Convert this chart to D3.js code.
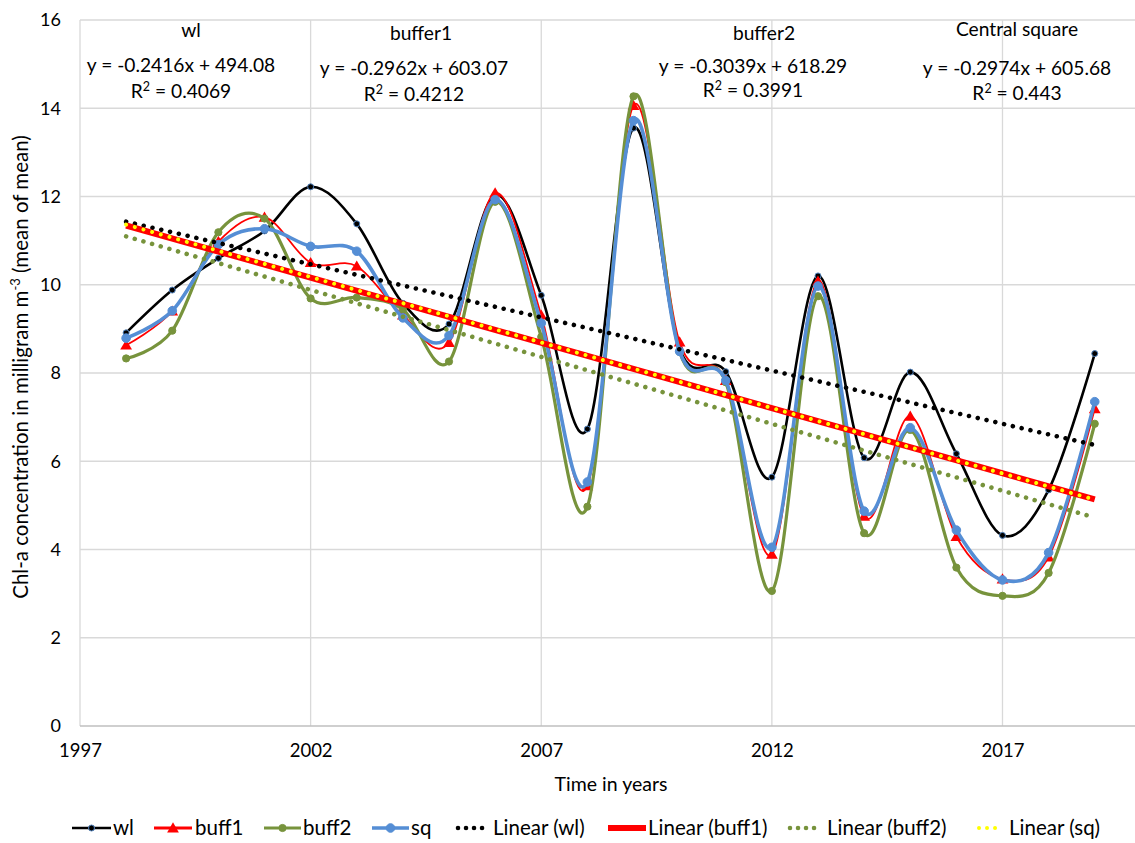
<!DOCTYPE html>
<html><head><meta charset="utf-8">
<script src="https://cdn.jsdelivr.net/npm/d3@7"></script>
<style>
body{margin:0;background:#fff}
text{font-family:Lato,"Open Sans",sans-serif;fill:#000}
</style>
</head><body>
<svg id="c" width="1135" height="843"></svg>
<script>
// ---------- data ----------
const years = [1998,1999,2000,2001,2002,2003,2004,2005,2006,2007,2008,2009,2010,2011,2012,2013,2014,2015,2016,2017,2018,2019];
const wl    = [8.91,9.88,10.60,11.22,12.22,11.38,9.58,9.11,12.03,9.76,6.73,13.55,8.55,8.03,5.64,10.20,6.08,8.02,6.17,4.32,5.35,8.44];
const buff1 = [8.63,9.40,10.98,11.53,10.50,10.42,9.31,8.69,12.08,9.31,5.44,14.06,8.70,7.83,3.89,10.08,4.75,7.02,4.29,3.33,3.83,7.19];
const buff2 = [8.33,8.96,11.19,11.50,9.69,9.71,9.44,8.26,11.88,8.82,4.97,14.27,8.48,7.79,3.06,9.74,4.37,6.71,3.59,2.95,3.47,6.85];
const sq    = [8.79,9.41,10.91,11.27,10.87,10.76,9.25,8.85,11.93,9.13,5.53,13.72,8.49,7.83,4.05,9.97,4.87,6.76,4.44,3.31,3.93,7.35];
const seriesNames = ["wl","buff1","buff2","sq"];
const trendNames = ["Linear (wl)","Linear (buff1)","Linear (buff2)","Linear (sq)"];
const annotTitles = ["wl","buffer1","buffer2","Central square"];
const annotEquations = ["y = -0.2416x + 494.08","y = -0.2962x + 603.07","y = -0.3039x + 618.29","y = -0.2974x + 605.68"];
const annotR2 = ["0.4069","0.4212","0.3991","0.443"];
const xTicks = [1997,2002,2007,2012,2017];
const yTicks = [0,2,4,6,8,10,12,14,16];
const xTitle = "Time in years";
const yTitleParts = ["Chl-a concentration in  milligram m","-3"," (mean of mean)"];

// ---------- layout ----------
const L = 80, T = 20, B = 726, R = 1135;
const svg = d3.select("#c");
const x = d3.scaleLinear().domain([1997, 2017]).range([L, 1002.5]);
const y = d3.scaleLinear().domain([0, 16]).range([B, T]);
const values = [wl, buff1, buff2, sq];

const styles = [
  {color:"#000000", width:2.6, marker:"circle", r:3, mfill:"#000", mstroke:"#4f81bd"},
  {color:"#ff0000", width:1.8, marker:"triangle", size:60, mfill:"#ff0000", mstroke:"#ff0000"},
  {color:"#77933c", width:3.2, marker:"circle", r:3.6, mfill:"#77933c", mstroke:"#77933c"},
  {color:"#558ed5", width:3.6, marker:"circle", r:4.3, mfill:"#558ed5", mstroke:"#558ed5"}
];
const trendStyles = [
  {color:"#000000", width:4.6, dash:"0.01 9"},
  {color:"#ff0000", width:6, dash:null},
  {color:"#77933c", width:4.6, dash:"0.01 9"},
  {color:"#ffff00", width:4, dash:"0.01 9"}
];

// gridlines
const g = svg.append("g");
g.selectAll("line.h").data(yTicks.filter(v=>v>0)).join("line")
  .attr("x1", L).attr("x2", R).attr("y1", d=>y(d)).attr("y2", d=>y(d))
  .attr("stroke", "#d9d9d9").attr("stroke-width", 1.3);
g.selectAll("line.v").data(xTicks).join("line")
  .attr("x1", d=>x(d)).attr("x2", d=>x(d)).attr("y1", T).attr("y2", B)
  .attr("stroke", "#d9d9d9").attr("stroke-width", 1.3);
g.append("line").attr("x1", L).attr("x2", R).attr("y1", B).attr("y2", B)
  .attr("stroke", "#bfbfbf").attr("stroke-width", 1.5);

// axes
const xAxis = svg.append("g").attr("transform", `translate(0,${B})`)
  .call(d3.axisBottom(x).tickValues(xTicks).tickFormat(d3.format("d")).tickSize(0).tickPadding(18));
xAxis.select(".domain").remove();
xAxis.selectAll("text").attr("font-size", 18.5).attr("font-family", "Lato").attr("fill", "#000");
const yAxis = svg.append("g").attr("transform", `translate(${L},0)`)
  .call(d3.axisLeft(y).tickValues(yTicks).tickSize(0).tickPadding(19));
yAxis.select(".domain").remove();
yAxis.selectAll("text").attr("font-size", 18).attr("font-family", "DejaVu Sans").attr("fill", "#000");

// axis titles
svg.append("text").attr("x", 611).attr("y", 791).attr("text-anchor", "middle")
  .attr("font-size", 19.5).text(xTitle);
const yt = svg.append("text").attr("transform", "translate(28,367) rotate(-90)")
  .attr("text-anchor", "middle").attr("font-size", 20.5);
yt.append("tspan").text(yTitleParts[0]);
yt.append("tspan").attr("dy", -8).attr("font-size", 13).text(yTitleParts[1]);
yt.append("tspan").attr("dy", 8).text(yTitleParts[2]);

// clip
svg.append("clipPath").attr("id", "pc").append("rect").attr("x", L).attr("y", T - 10).attr("width", R - L).attr("height", B - T + 10);
const plot = svg.append("g").attr("clip-path", "url(#pc)");

// series
const line = d3.line().x((d,i)=>x(years[i])).y(d=>y(d)).curve(d3.curveCardinal.tension(0));
function drawMarker(sel, st, cx, cy) {
  if (st.marker === "triangle") {
    sel.append("path").attr("d", d3.symbol(d3.symbolTriangle, st.size)())
      .attr("transform", `translate(${cx},${cy + 1})`).attr("fill", st.mfill);
  } else {
    sel.append("circle").attr("cx", cx).attr("cy", cy).attr("r", st.r)
      .attr("fill", st.mfill).attr("stroke", st.mstroke).attr("stroke-width", 1);
  }
}
values.forEach((vals, k) => {
  const st = styles[k];
  const sg = plot.append("g");
  sg.append("path").attr("d", line(vals)).attr("fill", "none")
    .attr("stroke", st.color).attr("stroke-width", st.width).attr("stroke-linejoin", "round");
  vals.forEach((v, i) => drawMarker(sg, st, x(years[i]), y(v)));
});

// trendlines (least squares)
function fit(xs, ys) {
  const mx = d3.mean(xs), my = d3.mean(ys);
  let sxy = 0, sxx = 0;
  xs.forEach((xv, i) => { sxy += (xv - mx) * (ys[i] - my); sxx += (xv - mx) ** 2; });
  const m = sxy / sxx, b = my - m * mx;
  return v => m * v + b;
}
values.forEach((vals, k) => {
  const f = fit(years, vals), st = trendStyles[k];
  const x0 = years[0], x1 = years[years.length - 1];
  const p = plot.append("line").attr("x1", x(x0)).attr("y1", y(f(x0))).attr("x2", x(x1)).attr("y2", y(f(x1)))
    .attr("stroke", st.color).attr("stroke-width", st.width).attr("stroke-linecap", st.dash ? "round" : "butt");
  if (st.dash) p.attr("stroke-dasharray", st.dash);
});

// annotations
const annTitleX = [191, 421, 764, 1017];
const annX = [181, 414, 753, 1017];
const annTitleY = [37, 40, 40, 36];
const annEqY = [72, 75, 73, 75];
const annR2Y = [98, 101, 97, 100];
const annFont = 19.2;
annotTitles.forEach((t, i) => {
  svg.append("text").attr("x", annTitleX[i]).attr("y", annTitleY[i])
    .attr("text-anchor", "middle").attr("font-size", annFont).text(t);
  svg.append("text").attr("x", annX[i]).attr("y", annEqY[i])
    .attr("text-anchor", "middle").attr("font-size", annFont).text(annotEquations[i]);
  const r = svg.append("text").attr("x", annX[i]).attr("y", annR2Y[i])
    .attr("text-anchor", "middle").attr("font-size", annFont);
  r.append("tspan").text("R");
  r.append("tspan").attr("dy", -7).attr("font-size", 12.5).text("2");
  r.append("tspan").attr("dy", 7).text(" = " + annotR2[i]);
});

// legend
const legY = 828;
const legLayout = [
  {x1:72, x2:111, tx:113},
  {x1:154, x2:192, tx:195},
  {x1:264, x2:301, tx:303},
  {x1:372, x2:409, tx:411},
  {x1:455, x2:486, tx:493},
  {x1:608, x2:646, tx:648},
  {x1:787, x2:821, tx:827},
  {x1:976, x2:1003, tx:1009}
];
const lg = svg.append("g");
seriesNames.concat(trendNames).forEach((name, i) => {
  const lay = legLayout[i];
  if (i < 4) {
    const st = styles[i];
    lg.append("line").attr("x1", lay.x1).attr("x2", lay.x2).attr("y1", legY).attr("y2", legY)
      .attr("stroke", st.color).attr("stroke-width", st.width + (i === 1 ? 1 : 0));
    drawMarker(lg, st, (lay.x1 + lay.x2) / 2, legY);
  } else {
    const st = trendStyles[i - 4];
    const l = lg.append("line").attr("x1", lay.x1 + (st.dash ? 3 : 0)).attr("x2", lay.x2).attr("y1", legY).attr("y2", legY)
      .attr("stroke", st.color).attr("stroke-width", st.width).attr("stroke-linecap", st.dash ? "round" : "butt");
    if (st.dash) l.attr("stroke-dasharray", "0.01 8");
  }
  lg.append("text").attr("x", lay.tx).attr("y", legY + 7).attr("font-size", 20.5).text(name);
});
</script>
</body></html>
